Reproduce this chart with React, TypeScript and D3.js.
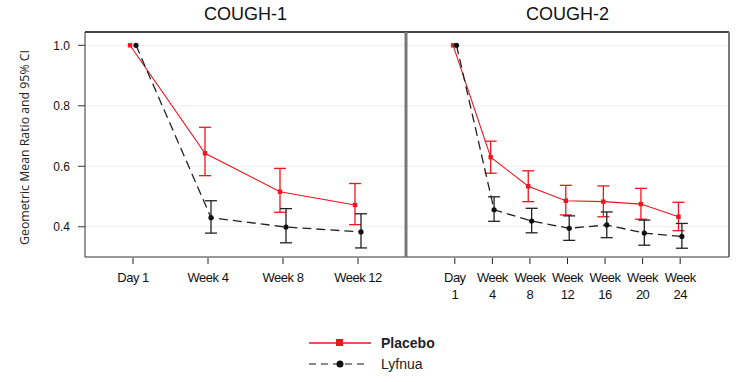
import React from "react";
import * as d3 from "d3";

const panels = ["COUGH-1", "COUGH-2"];
const cats1 = ["Day 1", "Week 4", "Week 8", "Week 12"];
const cats2 = ["Day\n1", "Week\n4", "Week\n8", "Week\n12", "Week\n16", "Week\n20", "Week\n24"];

const placebo1 = [1.0, 0.643, 0.516, 0.472];
const placebo1Lo = [1.0, 0.569, 0.448, 0.407];
const placebo1Hi = [1.0, 0.729, 0.593, 0.543];
const lyfnua1 = [1.0, 0.43, 0.399, 0.383];
const lyfnua1Lo = [1.0, 0.379, 0.347, 0.33];
const lyfnua1Hi = [1.0, 0.486, 0.46, 0.443];

const placebo2 = [1.0, 0.63, 0.534, 0.486, 0.483, 0.475, 0.433];
const placebo2Lo = [1.0, 0.577, 0.483, 0.439, 0.433, 0.425, 0.387];
const placebo2Hi = [1.0, 0.683, 0.585, 0.537, 0.535, 0.527, 0.481];
const lyfnua2 = [1.0, 0.456, 0.419, 0.395, 0.406, 0.379, 0.368];
const lyfnua2Lo = [1.0, 0.418, 0.38, 0.355, 0.364, 0.339, 0.329];
const lyfnua2Hi = [1.0, 0.499, 0.461, 0.436, 0.449, 0.422, 0.411];

const yTicks = [0.4, 0.6, 0.8, 1.0];
const seriesNames = ["Placebo", "Lyfnua"];

const RED = "#f0141e";
const BLACK = "#111";
const FONT = "Liberation Sans, Arial, sans-serif";

export default function App() {
  const top = 32;
  const bottom = 257;
  const y = d3.scaleLinear().domain([0.3, 1.044]).range([bottom, top]);

  const panelDefs = [
    {
      title: panels[0],
      cats: cats1,
      x0: 85,
      x1: 406,
      off: 3,
      pad: 0.64,
      p: placebo1, pl: placebo1Lo, ph: placebo1Hi,
      l: lyfnua1, ll: lyfnua1Lo, lh: lyfnua1Hi,
    },
    {
      title: panels[1],
      cats: cats2,
      x0: 406,
      x1: 729,
      off: 1.7,
      pad: 1.3,
      p: placebo2, pl: placebo2Lo, ph: placebo2Hi,
      l: lyfnua2, ll: lyfnua2Lo, lh: lyfnua2Hi,
    },
  ];

  const renderPanel = (pd: any, pi: number) => {
    const x = d3
      .scalePoint<string>()
      .domain(pd.cats)
      .range([pd.x0, pd.x1])
      .padding(pd.pad);
    const mk = (vals: number[], dx: number) =>
      d3
        .line<number>()
        .x((_, i) => (x(pd.cats[i]) as number) + dx)
        .y((d) => y(d))(vals) as string;
    const errBars = (vals: number[], lo: number[], hi: number[], dx: number, color: string) =>
      vals.map((v, i) => {
        if (i === 0) return null;
        const cx = (x(pd.cats[i]) as number) + dx;
        return (
          <g key={i} stroke={color} strokeWidth={1.3}>
            <line x1={cx} x2={cx} y1={y(lo[i])} y2={y(hi[i])} />
            <line x1={cx - 6} x2={cx + 6} y1={y(lo[i])} y2={y(lo[i])} />
            <line x1={cx - 6} x2={cx + 6} y1={y(hi[i])} y2={y(hi[i])} />
          </g>
        );
      });
    const cx = (pd.x0 + pd.x1) / 2;
    return (
      <g key={pi}>
        {yTicks.map((t) => (
          <line key={t} x1={pd.x0} x2={pd.x1} y1={y(t)} y2={y(t)} stroke="#ececec" strokeWidth={1} />
        ))}
        <text x={cx} y={20} textAnchor="middle" fontFamily={FONT} fontSize={18} fill="#111">
          {pd.title}
        </text>
        {pd.cats.map((c: string) => {
          const tx = x(c) as number;
          const lines = c.split("\n");
          return (
            <g key={c}>
              <line x1={tx} x2={tx} y1={bottom + 1} y2={bottom + 7} stroke="#222" strokeWidth={1} />
              {lines.map((ln, k) => (
                <text
                  key={k}
                  x={tx}
                  y={282 + k * 17}
                  textAnchor="middle"
                  fontFamily={FONT}
                  fontSize={13}
                  letterSpacing={-0.5}
                  fill="#111"
                >
                  {ln}
                </text>
              ))}
            </g>
          );
        })}
        {errBars(pd.p, pd.pl, pd.ph, -pd.off, RED)}
        {errBars(pd.l, pd.ll, pd.lh, pd.off, "#222")}
        <path d={mk(pd.p, -pd.off)} fill="none" stroke={RED} strokeWidth={1.1} />
        <path d={mk(pd.l, pd.off)} fill="none" stroke="#222" strokeWidth={1.3} strokeDasharray="9,5" />
        {pd.p.map((v: number, i: number) => (
          <rect
            key={"p" + i}
            x={(x(pd.cats[i]) as number) - pd.off - 2.2}
            y={y(v) - 2.2}
            width={4.4}
            height={4.4}
            fill={RED}
          />
        ))}
        {pd.l.map((v: number, i: number) => (
          <circle key={"l" + i} cx={(x(pd.cats[i]) as number) + pd.off} cy={y(v)} r={2.6} fill={BLACK} />
        ))}
      </g>
    );
  };

  return (
    <svg
      width={744}
      height={382}
      style={{ position: "absolute", left: 0, top: 0, background: "#fff" }}
    >
      <rect width={744} height={382} fill="#fff" />
      {panelDefs.map(renderPanel)}
      {/* frames */}
      <line x1={85} x2={729} y1={top} y2={top} stroke="#444" strokeWidth={2} />
      <line x1={85} x2={85} y1={top} y2={bottom} stroke="#333" strokeWidth={1} />
      <line x1={85} x2={729} y1={bottom} y2={bottom} stroke="#333" strokeWidth={1} />
      <line x1={406} x2={406} y1={top} y2={bottom} stroke="#777" strokeWidth={3} />
      <line x1={729} x2={729} y1={top} y2={bottom} stroke="#777" strokeWidth={2} />
      {/* y axis */}
      {yTicks.map((t) => (
        <g key={t}>
          <line x1={78} x2={85} y1={y(t)} y2={y(t)} stroke="#333" strokeWidth={1} />
          <text
            x={70}
            y={y(t) + 4.5}
            textAnchor="end"
            fontFamily={FONT}
            fontSize={12}
            fill="#111"
          >
            {d3.format(".1f")(t)}
          </text>
        </g>
      ))}
      <text
        transform={`translate(29,${(top + bottom) / 2 + 3}) rotate(-90)`}
        textAnchor="middle"
        fontFamily="Open Sans, sans-serif"
        fontSize={12.3}
        fill="#222"
      >
        Geometric Mean Ratio and 95% CI
      </text>
      {/* legend */}
      <g>
        <line x1={309} x2={371} y1={343} y2={343} stroke={RED} strokeWidth={1.5} />
        <rect x={336} y={339} width={7} height={7} fill={RED} />
        <text x={381} y={348} fontFamily={FONT} fontSize={14} fontWeight="bold" fill="#222">
          {seriesNames[0]}
        </text>
        <line x1={309} x2={366} y1={364} y2={364} stroke="#666" strokeWidth={1.5} strokeDasharray="7,5" />
        <circle cx={340} cy={364} r={3.5} fill={BLACK} />
        <text x={381} y={369} fontFamily={FONT} fontSize={14} fill="#222">
          {seriesNames[1]}
        </text>
      </g>
    </svg>
  );
}
